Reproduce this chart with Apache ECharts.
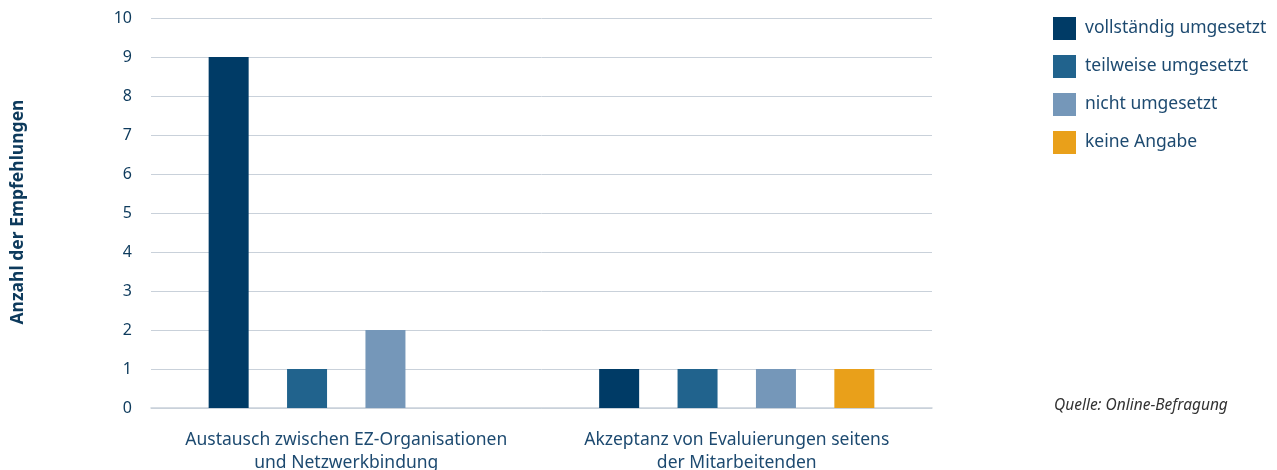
<!DOCTYPE html>
<html>
<head>
<meta charset="utf-8">
<script src="https://cdn.jsdelivr.net/npm/echarts@6/dist/echarts.min.js"></script>
<style>
  html, body { margin: 0; padding: 0; background: #fff; }
  #chart { width: 1277px; height: 470px; }
</style>
</head>
<body>
<div id="chart"></div>
<script>
// Kategorien (x-Achse)
var categories = ['Austausch zwischen EZ-Organisationen\nund Netzwerkbindung', 'Akzeptanz von Evaluierungen seitens\nder Mitarbeitenden'];
// Serien
var seriesNames = ['vollständig umgesetzt', 'teilweise umgesetzt', 'nicht umgesetzt', 'keine Angabe'];
var vollstaendig = [9, 1];
var teilweise = [1, 1];
var nicht = [2, 1];
var keineAngabe = ['-', 1];
var colors = ['#003b66', '#21638d', '#7597b9', '#e9a01a'];

var myChart = echarts.init(document.getElementById('chart'));
var values = [vollstaendig, teilweise, nicht, keineAngabe];
var series = [];
for (var i = 0; i < seriesNames.length; i++) {
    series.push({
        name: seriesNames[i],
        type: 'bar',
        data: values[i],
        barWidth: 40,
        barGap: '96%',
        itemStyle: { color: colors[i] }
    });
}
var option = {
    animation: false,
    textStyle: { fontFamily: 'Noto Sans' },
    grid: { left: 151, right: 345, top: 18, bottom: 62, containLabel: false, outerBoundsMode: 'none' },
    legend: {
        orient: 'vertical',
        left: 1053, top: 17,
        padding: 0,
        icon: 'rect',
        itemWidth: 23, itemHeight: 23, itemGap: 15,
        textStyle: { color: '#1d4a70', fontSize: 17.5, padding: [0, 0, 0, 4] },
        data: seriesNames
    },
    xAxis: {
        type: 'category',
        data: categories,
        axisLine: { lineStyle: { color: '#c9d1da', width: 1.5 } },
        axisTick: { inside: true, length: 8, lineStyle: { color: '#c9d1da' } },
        axisLabel: { color: '#1d4a70', fontSize: 17.5, margin: 21, lineHeight: 23, interval: 0, hideOverlap: false }
    },
    yAxis: {
        type: 'value',
        min: 0, max: 10, interval: 1,
        axisLabel: { color: '#0d3a5c', fontSize: 16, margin: 19 },
        splitLine: { lineStyle: { color: '#c9d1da' } }
    },
    graphic: [{
        // Achsentitel
        type: 'text', x: 18, y: 212, rotation: Math.PI / 2,
        style: { text: 'Anzahl der Empfehlungen', fill: '#0d3a5c', font: 'bold 17.5px "Noto Sans"', align: 'center', verticalAlign: 'middle' }
    }, {
        type: 'text', left: 1054, top: 398,
        style: { text: 'Quelle: Online-Befragung', fill: '#333', font: 'italic 15.5px "Noto Sans"' }
    }],
    series: series
};
myChart.setOption(option);
</script>
</body>
</html>
